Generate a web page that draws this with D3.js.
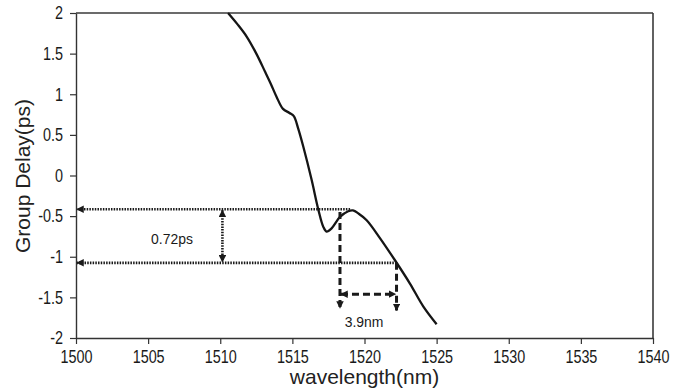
<!DOCTYPE html>
<html>
<head>
<meta charset="utf-8">
<script src="https://cdn.jsdelivr.net/npm/d3@7"></script>
<style>
  body { margin: 0; background: #fff; }
  svg { display: block; }
</style>
</head>
<body>
<svg id="chart" width="686" height="391"></svg>
<script>
// ---- data ----
const wavelength = [1510.54, 1511.2, 1511.83, 1512.5, 1513.1, 1513.5, 1513.9, 1514.35, 1514.8, 1515.1,
  1515.4, 1515.75, 1516.33, 1516.8, 1517.14, 1517.37, 1517.72, 1518.3, 1518.87, 1519.2,
  1519.6, 1520.15, 1521.07, 1522.1, 1523.15, 1524.07, 1525.0];
const groupDelay = [2.00, 1.86, 1.71, 1.50, 1.28, 1.13, 0.97, 0.82, 0.77, 0.73,
  0.58, 0.36, -0.05, -0.42, -0.63, -0.69, -0.65, -0.51, -0.44, -0.43,
  -0.47, -0.55, -0.77, -1.04, -1.33, -1.61, -1.83];
const xTicks = [1500, 1505, 1510, 1515, 1520, 1525, 1530, 1535, 1540];
const yTicks = [-2, -1.5, -1, -0.5, 0, 0.5, 1, 1.5, 2];
// annotation values
const delayLevels = [-0.415, -1.075];          // ps
const delayLevelEnds = [1519.0, 1522.22];      // nm, where dotted lines end
const delayArrowX = [1510.15];                 // nm
const bandEdges = [1518.3, 1522.22];           // nm
const bandTops = [-0.45, -1.075];              // ps
const bandBottoms = [-1.63, -1.66];            // ps
const bandArrowY = [-1.46];                    // ps
const delayLabel = "0.72ps";
const bandLabel = "3.9nm";

// ---- layout ----
const svg = d3.select("#chart");
const L = 76, R = 653, T = 13, B = 338;
const x = d3.scaleLinear().domain([1500, 1540]).range([L, R]);
const y = d3.scaleLinear().domain([-2, 2]).range([B, T]);
const mainFont = "'Liberation Sans', Arial, Helvetica, sans-serif";
const SX = 0.8; // horizontal condensing of tick labels

// markers
const defs = svg.append("defs");
defs.append("marker").attr("id", "arr")
  .attr("viewBox", "0 0 10 10").attr("refX", 9).attr("refY", 5)
  .attr("markerWidth", 7.5).attr("markerHeight", 7.5)
  .attr("markerUnits", "userSpaceOnUse")
  .attr("orient", "auto-start-reverse")
  .append("path").attr("d", "M0,0 L10,5 L0,10 Z").attr("fill", "#1a1a1a");

// frame (top & right)
svg.append("line").attr("x1", L).attr("x2", R).attr("y1", T).attr("y2", T)
  .attr("stroke", "#3a3a3a").attr("stroke-width", 1.6);
svg.append("line").attr("x1", R).attr("x2", R).attr("y1", T).attr("y2", B)
  .attr("stroke", "#3a3a3a").attr("stroke-width", 1.6);

// axes
const xAxis = svg.append("g").attr("transform", `translate(0,${B})`)
  .call(d3.axisBottom(x).tickValues(xTicks).tickSize(6).tickSizeOuter(0).tickPadding(6).tickFormat(d3.format("d")));
const yAxis = svg.append("g").attr("transform", `translate(${L},0)`)
  .call(d3.axisLeft(y).tickValues(yTicks).tickSize(6).tickSizeOuter(0).tickPadding(6).tickFormat(d => String(d)));
[xAxis, yAxis].forEach(g => {
  g.select(".domain").attr("stroke", "#333").attr("stroke-width", 1.4);
  g.selectAll(".tick line").attr("stroke", "#333").attr("stroke-width", 1.2);
  g.selectAll(".tick text").attr("fill", "#1a1a1a").style("font-family", mainFont).style("font-size", "18px")
    .attr("transform", `scale(${SX},1)`);
});
yAxis.selectAll(".tick text").attr("x", -13 / SX);

// axis titles
svg.append("text").attr("x", (L + R) / 2).attr("y", 384)
  .attr("text-anchor", "middle").style("font-family", mainFont).style("font-size", "21px")
  .attr("fill", "#222").text("wavelength(nm)");
svg.append("text").attr("transform", `translate(30,176) rotate(-90)`)
  .attr("text-anchor", "middle").style("font-family", mainFont).style("font-size", "21px")
  .attr("fill", "#222").text("Group Delay(ps)");

// curve
const pts = wavelength.map((w, i) => [w, groupDelay[i]]);
svg.append("path").datum(pts)
  .attr("fill", "none").attr("stroke", "#151515").attr("stroke-width", 2.3)
  .attr("d", d3.line().x(d => x(d[0])).y(d => y(d[1])).curve(d3.curveCatmullRom.alpha(0.5)));

// dotted horizontal levels with left arrows
delayLevels.forEach((lv, i) => {
  svg.append("line")
    .attr("x1", x(delayLevelEnds[i])).attr("x2", x(1500) + 1)
    .attr("y1", y(lv)).attr("y2", y(lv))
    .attr("stroke", "#1a1a1a").attr("stroke-width", 2.6)
    .attr("stroke-dasharray", "1.5 1.2")
    .attr("marker-end", "url(#arr)");
});
// vertical dotted double arrow
svg.append("line")
  .attr("x1", x(delayArrowX[0])).attr("x2", x(delayArrowX[0]))
  .attr("y1", y(delayLevels[0]) + 1).attr("y2", y(delayLevels[1]) - 1)
  .attr("stroke", "#1a1a1a").attr("stroke-width", 2.6)
  .attr("stroke-dasharray", "1.5 1.2")
  .attr("marker-start", "url(#arr)").attr("marker-end", "url(#arr)");
svg.append("text").attr("transform", "translate(172,244) scale(0.9,1)")
  .attr("text-anchor", "middle").style("font-family", mainFont).style("font-size", "15.5px")
  .attr("fill", "#1a1a1a").text(delayLabel);

// dashed verticals with down arrows
bandEdges.forEach((bx, i) => {
  svg.append("line")
    .attr("x1", x(bx)).attr("x2", x(bx))
    .attr("y1", y(bandTops[i])).attr("y2", y(bandBottoms[i]))
    .attr("stroke", "#1a1a1a").attr("stroke-width", 3)
    .attr("stroke-dasharray", "7 4")
    .attr("marker-end", "url(#arr)");
});
// horizontal dashed double arrow
svg.append("line")
  .attr("x1", x(bandEdges[0]) + 1).attr("x2", x(bandEdges[1]) - 1)
  .attr("y1", y(bandArrowY[0])).attr("y2", y(bandArrowY[0]))
  .attr("stroke", "#1a1a1a").attr("stroke-width", 3)
  .attr("stroke-dasharray", "7 4")
  .attr("marker-start", "url(#arr)").attr("marker-end", "url(#arr)");
svg.append("text").attr("transform", "translate(364,327) scale(0.9,1)")
  .attr("text-anchor", "middle").style("font-family", mainFont).style("font-size", "15.5px")
  .attr("fill", "#1a1a1a").text(bandLabel);
</script>
</body>
</html>
